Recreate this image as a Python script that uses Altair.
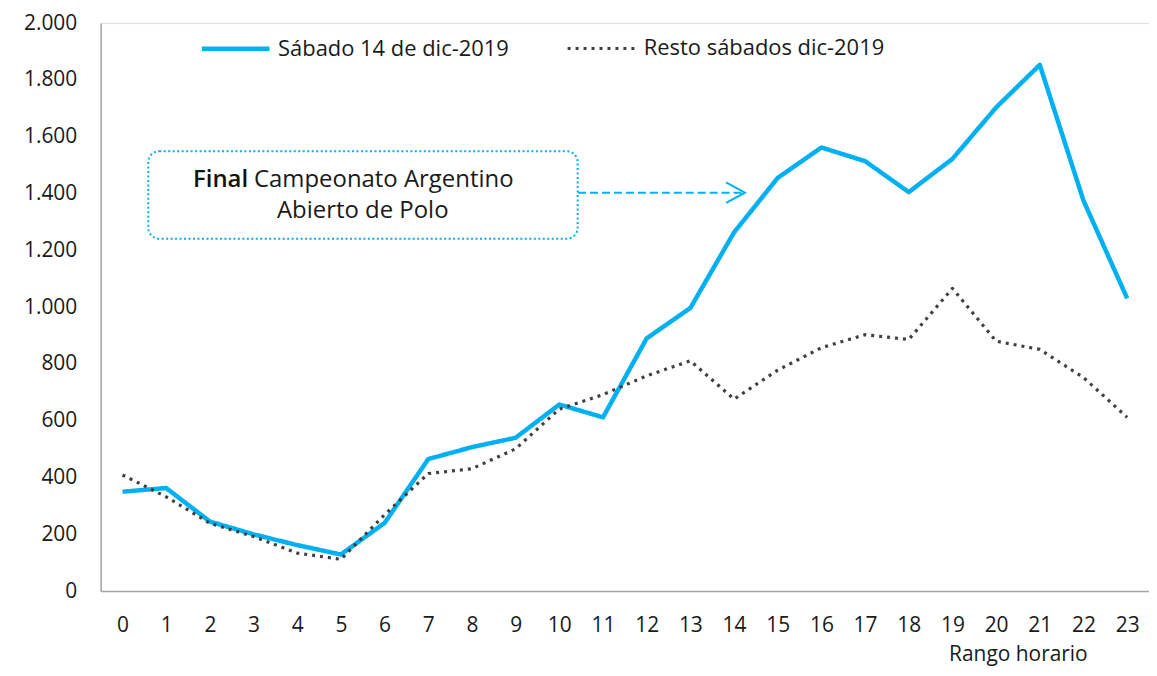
import altair as alt
import pandas as pd

hours = list(range(24))
sabado_14 = [350, 363, 245, 200, 162, 129, 240, 465, 507, 540, 657, 612,
             890, 997, 1263, 1455, 1562, 1514, 1405, 1522, 1703, 1853, 1375, 1031]
resto = [409, 332, 239, 192, 134, 112, 269, 414, 431, 501, 641, 692,
         758, 811, 676, 778, 857, 903, 886, 1066, 880, 851, 752, 612]
series = ["Sábado 14 de dic-2019", "Resto sábados dic-2019"]

BLUE = "#00B0F0"
DARK = "#404040"
FONT = "Open Sans"
TXT = "#1a1a1a"

rows = []
for h, a, b in zip(hours, sabado_14, resto):
    rows.append({"hora": h, "valor": a, "serie": series[0]})
    rows.append({"hora": h, "valor": b, "serie": series[1]})
df = pd.DataFrame(rows)

xscale = alt.Scale(domain=[-0.5, 23.5], nice=False, zero=False)
yscale = alt.Scale(domain=[0, 2000], nice=False)

lines = alt.Chart(df).mark_line(strokeJoin="round").encode(
    x=alt.X("hora:Q", scale=xscale,
            axis=alt.Axis(values=hours, format="d", title="Rango horario",
                          grid=False, ticks=False, domainColor="#A6A6A6", domainWidth=1.5,
                          labelFontSize=21, labelPadding=24, labelColor=TXT,
                          labelFont=FONT, titleFont=FONT, titleFontSize=21,
                          titleFontWeight="normal", titleColor=TXT,
                          titleAnchor="end", titleAlign="right", titleX=990,
                          titleY=64, titleBaseline="middle")),
    y=alt.Y("valor:Q", scale=yscale,
            axis=alt.Axis(values=list(range(0, 2001, 200)), format=",d",
                          labelExpr="replace(datum.label, ',', '.')",
                          title=None, grid=False, ticks=False,
                          domainColor="#A6A6A6", domainWidth=1.5,
                          labelFontSize=21, labelPadding=24, labelColor=TXT,
                          labelFont=FONT)),
    color=alt.Color("serie:N", scale=alt.Scale(domain=series, range=[BLUE, DARK]),
                    legend=alt.Legend(title=None, orient="none", legendX=99, legendY=-11,
                                      direction="horizontal", columns=2,
                                      labelFontSize=22, labelFont=FONT,
                                      labelColor=TXT, labelOffset=6, labelLimit=500,
                                      columnPadding=52, symbolType="stroke",
                                      symbolSize=4600, padding=0)),
    strokeDash=alt.StrokeDash("serie:N",
                              scale=alt.Scale(domain=series, range=[[1, 0], [3, 5]]),
                              legend=alt.Legend(title=None, orient="none")),
    strokeWidth=alt.StrokeWidth("serie:N",
                                scale=alt.Scale(domain=series, range=[4.5, 3.2]),
                                legend=alt.Legend(title=None, orient="none")),
    order=alt.Order("hora:Q"),
)

# annotation box
box_df = pd.DataFrame({"x1": [0.59], "x2": [10.42], "y1": [1241], "y2": [1549]})
box = alt.Chart(box_df).mark_rect(fill=None, stroke=BLUE, strokeWidth=2,
                                  strokeDash=[2, 2.5], cornerRadius=11).encode(
    x="x1:Q", x2="x2:Q", y="y1:Q", y2="y2:Q")

arrow_df = pd.DataFrame({"x": [10.43, 14.25], "y": [1403, 1403]})
arrow_line = alt.Chart(arrow_df).mark_line(color=BLUE, strokeWidth=2,
                                           strokeDash=[8, 4]).encode(
    x="x:Q", y="y:Q")
head_df = pd.DataFrame({"x": [14.25], "y": [1403]})
arrow_head = alt.Chart(head_df).mark_point(
    shape="M-1.85,-1L0,0L-1.85,1", filled=False, color=BLUE, strokeWidth=2,
    size=420, opacity=1).encode(x="x:Q", y="y:Q")

t_final = pd.DataFrame({"x": [2.876], "y": [1446], "t": ["Final"]})
t_rest = pd.DataFrame({"x": [3.01], "y": [1446], "t": ["Campeonato Argentino"]})
t_line2 = pd.DataFrame({"x": [5.5], "y": [1337], "t": ["Abierto de Polo"]})

txt1 = alt.Chart(t_final).mark_text(align="right", baseline="middle", fontSize=24,
                                    font=FONT, fontWeight=600, color="#111111").encode(
    x="x:Q", y="y:Q", text="t:N")
txt2 = alt.Chart(t_rest).mark_text(align="left", baseline="middle", fontSize=24,
                                   font=FONT, color=TXT).encode(
    x="x:Q", y="y:Q", text="t:N")
txt3 = alt.Chart(t_line2).mark_text(align="center", baseline="middle", fontSize=24,
                                    font=FONT, color=TXT).encode(
    x="x:Q", y="y:Q", text="t:N")

chart = alt.layer(lines, box, arrow_line, arrow_head, txt1, txt2, txt3).properties(
    width=1052, height=570,
    padding={"left": 93, "top": 14, "right": 0, "bottom": 78},
    autosize=alt.AutoSizeParams(type="none"),
).configure_view(stroke=None).configure(background="white")

chart.save("out.html", embed_options={"renderer": "svg", "actions": False})
